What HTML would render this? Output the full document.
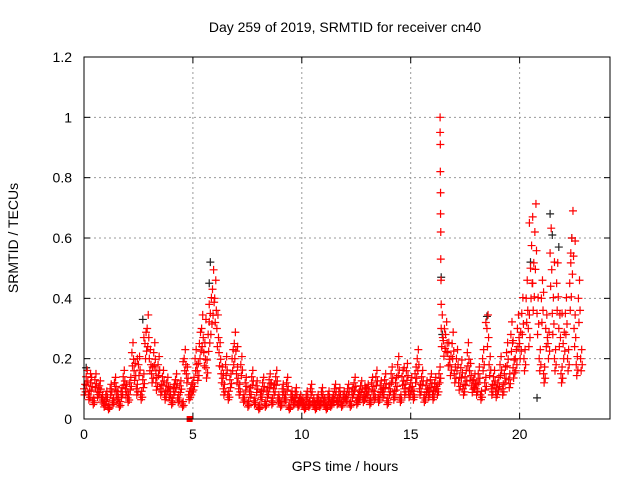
<!DOCTYPE html>
<html><head><meta charset="utf-8">
<style>
body{margin:0;background:#fff;}
svg{display:block;font-family:"Liberation Sans",sans-serif;}
</style></head>
<body>
<svg id="chart" width="640" height="480" viewBox="0 0 640 480">
<text x="345" y="32" font-size="14" text-anchor="middle">Day 259 of 2019, SRMTID for receiver cn40</text>
<text x="345" y="471" font-size="14" text-anchor="middle">GPS time / hours</text>
<text transform="translate(18,238) rotate(-90)" font-size="14" text-anchor="middle">SRMTID / TECUs</text>
<g id="grid"></g>
<g id="marks"></g>
<rect x="84" y="57" width="526" height="362" fill="none" stroke="#000" stroke-width="1"/>
</svg>
<script>
const xTicks=[0,5,10,15,20];
const yTicks=[0,0.2,0.4,0.6,0.8,1,1.2];
const yTickLabels=["0","0.2","0.4","0.6","0.8","1","1.2"];
const hourStart=[0,1,2,3,4,5,6,7,8,9,10,11,12,13,14,15,16,17,18,19,20,21,22];
const redByHour=[
[0.10,0.14,0.08,0.12,0.06,0.13,0.09,0.11,0.07,0.05],
[0.08,0.04,0.10,0.06,0.12,0.08,0.05,0.09,0.14,0.10],
[0.07,0.12,0.22,0.16,0.10,0.18,0.08,0.13,0.25,0.30],
[0.20,0.15,0.22,0.12,0.18,0.10,0.14,0.08,0.12,0.09],
[0.06,0.10,0.13,0.07,0.11,0.05,0.20,0.15,0.08,0.10],
[0.12,0.20,0.16,0.25,0.30,0.22,0.17,0.28,0.35,0.43],
[0.40,0.30,0.22,0.15,0.10,0.18,0.08,0.13,0.20,0.25],
[0.15,0.10,0.18,0.07,0.12,0.05,0.09,0.14,0.06,0.11],
[0.04,0.08,0.12,0.05,0.09,0.13,0.06,0.10,0.14,0.07],
[0.05,0.10,0.07,0.12,0.04,0.08,0.06,0.09,0.05,0.07],
[0.06,0.04,0.08,0.05,0.10,0.06,0.04,0.07,0.05,0.09],
[0.06,0.04,0.08,0.05,0.07,0.10,0.06,0.09,0.05,0.08],
[0.07,0.10,0.05,0.09,0.12,0.06,0.08,0.11,0.07,0.09],
[0.10,0.06,0.12,0.08,0.14,0.07,0.11,0.09,0.13,0.06],
[0.10,0.15,0.08,0.12,0.18,0.07,0.14,0.10,0.16,0.09],
[0.12,0.08,0.15,0.20,0.10,0.14,0.07,0.11,0.09,0.13],
[0.08,0.12,0.10,0.15,0.30,0.26,0.28,0.22,0.18,0.25],
[0.15,0.20,0.12,0.17,0.10,0.14,0.22,0.16,0.11,0.13],
[0.10,0.15,0.08,0.20,0.12,0.30,0.18,0.10,0.14,0.09],
[0.12,0.18,0.10,0.15,0.22,0.13,0.28,0.17,0.20,0.30],
[0.25,0.35,0.20,0.40,0.30,0.50,0.45,0.62,0.35,0.20],
[0.40,0.15,0.30,0.25,0.55,0.35,0.20,0.45,0.30,0.15],
[0.25,0.35,0.20,0.45,0.60,0.30,0.18,0.40,0.20]
];
const spikeTimes=[16.35,16.35,16.36,16.36,16.37,16.37,16.38,16.38,16.39,16.40];
const spikeValues=[1.0,0.95,0.91,0.82,0.75,0.68,0.62,0.53,0.46,0.38];
const extraTimes=[0.3,1.4,2.45,2.75,3.3,4.55,5.6,5.75,6.4,7.05,8.6,12.9,14.7,18.45,19.7,20.45,20.6,21.1,21.6,21.95,22.35,22.55];
const extraValues=[0.15,0.12,0.20,0.27,0.16,0.19,0.33,0.38,0.15,0.24,0.12,0.11,0.17,0.32,0.26,0.65,0.67,0.42,0.52,0.35,0.55,0.59];
const blackTimes=[2.7,5.8,5.75,16.4,16.45,20.5,20.8,21.4,21.5,21.8,22.4,0.1,18.5];
const blackValues=[0.33,0.52,0.45,0.47,0.28,0.52,0.07,0.68,0.61,0.57,0.60,0.17,0.34];
const squareTimes=[4.85];
const squareValues=[0.0];

const X0=84,X1=610,Y0=419,Y1=57,XMAX=24.15,YMAX=1.2;
const xs=t=>X0+t/XMAX*(X1-X0);
const ys=v=>Y0-v/YMAX*(Y0-Y1);
const NS="http://www.w3.org/2000/svg";
const grid=document.getElementById('grid'),marks=document.getElementById('marks');
function mk(tag,a,p){const e=document.createElementNS(NS,tag);for(const k in a)e.setAttribute(k,a[k]);p.appendChild(e);return e;}
xTicks.forEach(t=>{const x=xs(t);
 if(t>0){const g=mk('line',{x1:x,x2:x,y1:Y1,y2:Y0,stroke:'#999','stroke-dasharray':'2,3','stroke-width':1},grid);
 
 }
 mk('line',{x1:x,x2:x,y1:Y0,y2:Y0-6,stroke:'#000'},grid);
 mk('line',{x1:x,x2:x,y1:Y1,y2:Y1+6,stroke:'#000'},grid);
 const l=mk('text',{x:x,y:Y0+20,'font-size':14,'text-anchor':'middle'},grid);l.textContent=t;
 
 
});
yTicks.forEach((v,i)=>{const y=ys(v);
 if(v>0&&v<1.2){const g=mk('line',{x1:X0,x2:X1,y1:y,y2:y,stroke:'#999','stroke-dasharray':'2,3','stroke-width':1},grid);
 
 }
 mk('line',{x1:X0,x2:X0+6,y1:y,y2:y,stroke:'#000'},grid);
 mk('line',{x1:X1,x2:X1-6,y1:y,y2:y,stroke:'#000'},grid);
 const l=mk('text',{x:X0-12,y:y+5,'font-size':14,'text-anchor':'end'},grid);l.textContent=yTickLabels[i];
 
 
});
function plus(t,v,c){const x=xs(t),y=ys(v);
 return mk('path',{d:`M${x-4},${y}H${x+4}M${x},${y-4}V${y+4}`,stroke:c,'stroke-width':1.2,fill:'none'},marks);}
blackTimes.forEach((t,i)=>{const p=plus(t,blackValues[i],'#222');
 
 });
const jitterDt=[0,0.025,0.05,0.075];
const jitterK=[1,0.8,1.15,0.9];
redByHour.forEach((arr,h)=>arr.forEach((v,i)=>{
 const t=hourStart[h]+i/10;
 jitterDt.forEach((dt,j)=>{
  const p=plus(t+dt,v*jitterK[j],'#f00');
  
  
 });
}));
spikeTimes.forEach((t,i)=>{const p=plus(t,spikeValues[i],'#f00');
 
 });
extraTimes.forEach((t,i)=>{const p=plus(t,extraValues[i],'#f00');
 
 });
squareTimes.forEach((t,i)=>{const r=mk('rect',{x:xs(t)-3,y:ys(squareValues[i])-3,width:6,height:6,fill:'#f00'},marks);
 
 });
</script>
</body></html>
